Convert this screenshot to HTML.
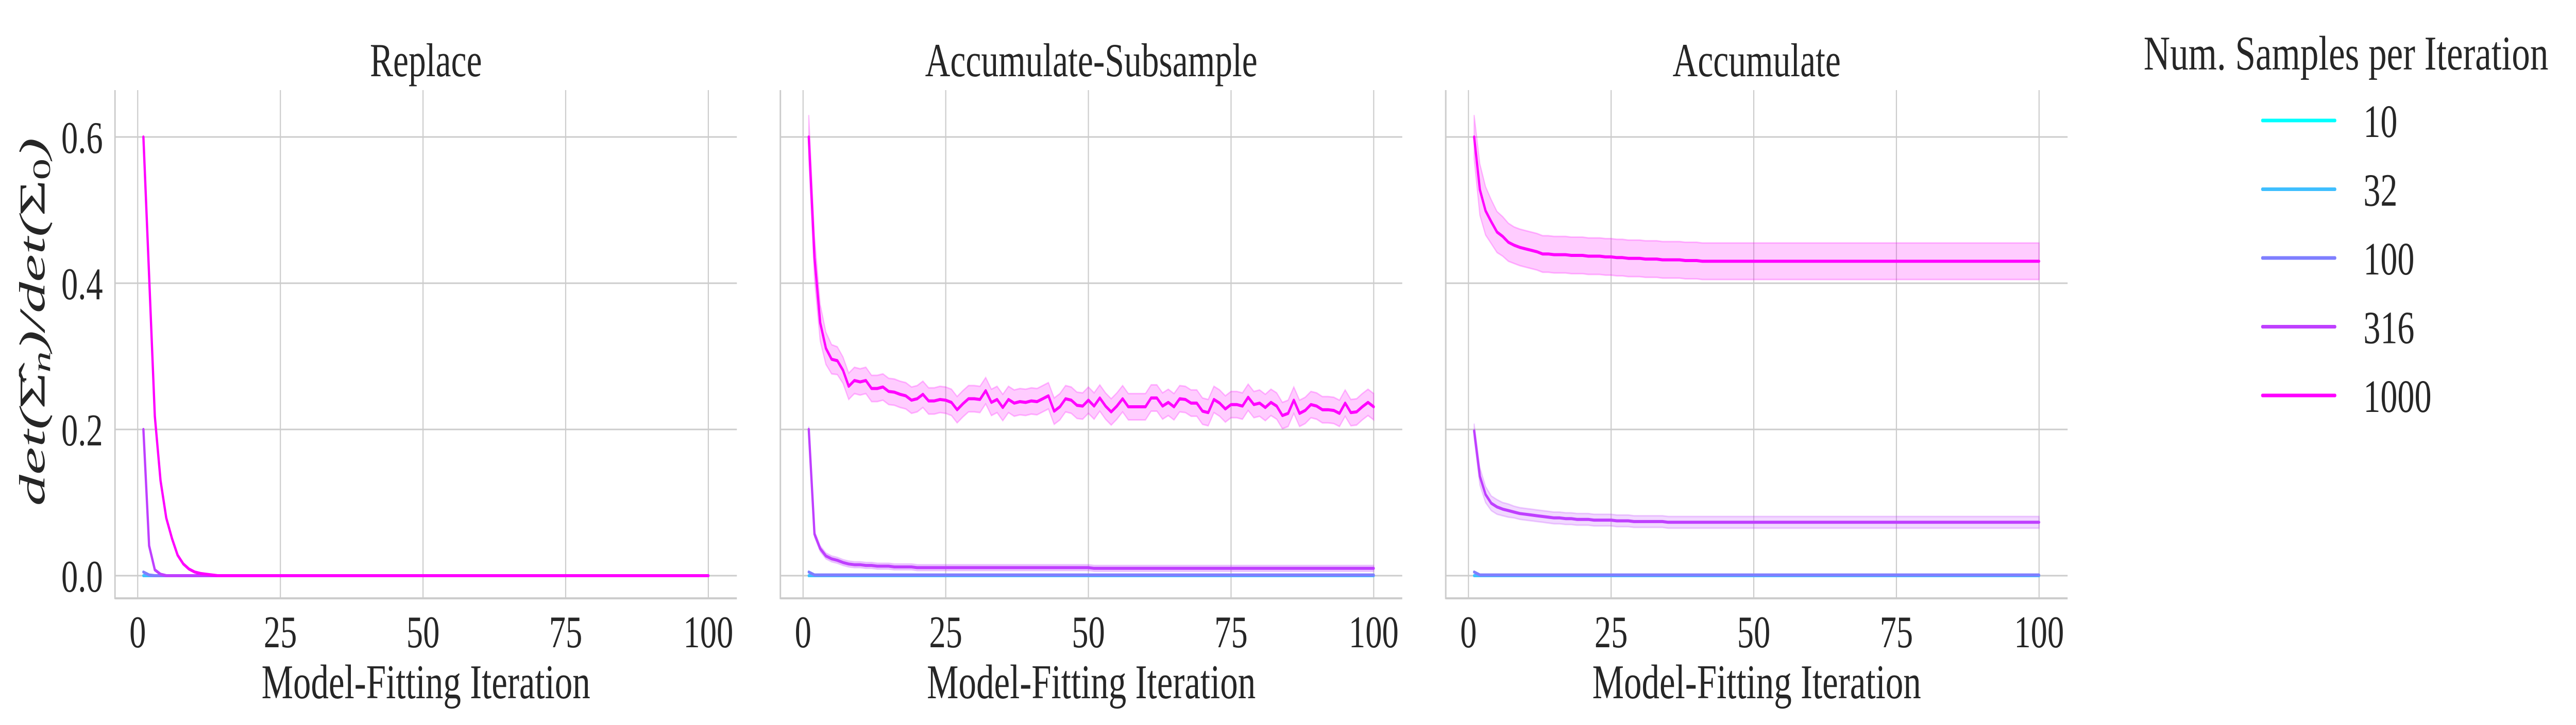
<!DOCTYPE html>
<html><head><meta charset="utf-8">
<style>
html,body{margin:0;padding:0;background:#fff;width:100%;height:100%;overflow:hidden;}
svg{display:block;width:100vw;height:100vh;}
text{font-family:"Liberation Serif",serif;fill:#262626;}
</style></head>
<body>
<svg id="chart" viewBox="0 0 6810 1408" preserveAspectRatio="none" xmlns="http://www.w3.org/2000/svg"></svg>
<script>
const seriesNames = ["10","32","100","316","1000"];
const seriesColors = ["#00ffff","#3fbfff","#7f7fff","#bf3fff","#ff00ff"];
const panelTitles = ["Replace","Accumulate-Subsample","Accumulate"];
const xTicks = [0,25,50,75,100];
const yTicks = [0.0,0.2,0.4,0.6];
const yTickLabels = ["0.0","0.2","0.4","0.6"];

// Replace
const rep1000 = [0.6,0.41,0.218,0.13,0.079,0.051,0.028,0.016,0.009,0.005,0.003,0.002,0.001];
const rep316 = [0.2,0.041,0.008,0.002];
const rep100 = [0.005,0.001];
// Accumulate-Subsample
const sub1000 = [0.6,0.435,0.346,0.311,0.296,0.294,0.281,0.259,0.267,0.265,0.267,0.256,0.256,0.258,0.252,0.251,0.248,0.246,0.240,0.242,0.248,0.239,
0.239,0.241,0.240,0.237,0.227,0.235,0.242,0.242,0.241,0.253,0.237,0.241,0.230,0.241,0.236,0.238,0.237,0.239,0.238,0.242,0.246,0.225,0.231,0.242,0.240,0.233,0.232,0.240,
0.232,0.243,0.232,0.224,0.232,0.242,0.231,0.231,0.231,0.231,0.243,0.243,0.232,0.237,0.231,0.242,0.241,0.236,0.236,0.225,0.223,0.241,0.236,0.228,0.234,0.234,0.232,0.244,0.234,0.236,
0.230,0.237,0.232,0.219,0.222,0.240,0.222,0.226,0.234,0.232,0.227,0.227,0.226,0.222,0.236,0.223,0.224,0.231,0.237,0.231];
const sub316 = [0.2,0.057,0.037,0.027,0.023,0.021,0.018,0.016,0.015,0.015,0.014,0.014,0.013,0.013,0.013,0.012,0.012,0.012,0.012,0.011];
const sub100 = [0.005,0.001];
// Accumulate
const acc1000 = [0.6,0.528,0.499,0.484,0.470,0.464,0.456,0.452,0.449,0.447,0.445,0.443,0.440,0.440,0.439,0.439,0.439,0.438,0.438,0.438,0.437,0.437,0.437,0.436,0.436,
0.435,0.435,0.434,0.434,0.434,0.433,0.433,0.433,0.432,0.432,0.432,0.432,0.431,0.431,0.431];
const acc316 = [0.198,0.136,0.111,0.099,0.094,0.091,0.089,0.087,0.085,0.084,0.083,0.082,0.081,0.080,0.079,0.079,0.078,0.078,0.077,0.077,0.077,0.076,0.076,0.076,0.076,
0.075,0.075,0.075,0.074,0.074,0.074,0.074,0.074,0.074,0.073,0.073,0.073,0.073,0.073,0.073,0.073,0.073,0.073,0.073,0.073,0.073,0.073,0.073,0.073,0.073];
const acc100 = [0.005,0.001];
const sub1000Band = [0.03,0.03,0.025,0.022,0.02,0.019,0.018,0.018];
const acc1000Band = [0.03,0.035,0.033,0.03,0.028,0.027,0.026,0.025,0.025,0.025];
const acc316Band = [0.01,0.012,0.011,0.01,0.01,0.009,0.009,0.008];

const N = 100;
function extend(arr, tail){ const out = arr.slice(); while(out.length<N) out.push(tail!==undefined?tail:arr[arr.length-1]); return out; }
const panels = [
  {series:[extend([0],0),extend([0],0),extend(rep100,0),extend(rep316,0),extend(rep1000,0)], bands:[null,null,null,null,null]},
  {series:[extend([0],0),extend([0],0),extend(sub100,0.001),extend(sub316,0.011).map((v,i)=>i>=50?0.010:v),extend(sub1000)], bands:[null,null,null,[0.004],sub1000Band]},
  {series:[extend([0],0),extend([0],0),extend(acc100,0.001),extend(acc316),extend(acc1000,0.430).map((v,i)=>i>=40?0.430:v)], bands:[null,null,null,acc316Band,acc1000Band]}
];

const svg = document.getElementById('chart');
const NS = "http://www.w3.org/2000/svg";
function mk(tag, attrs, parent){ const e=document.createElementNS(NS,tag); for(const k in attrs) e.setAttribute(k,attrs[k]); (parent||svg).appendChild(e); return e; }

const panelLeft = [304, 2063, 3822];
const panelWidth = 1644;
const plotTop = 175, plotBottom = 1162;
const xDomMin = -3.98, xDomMax = 105.0;
function yScale(v){ return 1118 - v*1420; }

panels.forEach((p, pi) => {
  const L = panelLeft[pi], R = L + panelWidth;
  const xScale = v => L + (v - xDomMin)/(xDomMax - xDomMin)*panelWidth;
  const g = mk('g',{});
  
  
  xTicks.forEach(t => {
    const ln = mk('line',{x1:xScale(t),x2:xScale(t),y1:plotTop,y2:plotBottom,stroke:'#cccccc','stroke-width':3},g);
    
    
    const tx = mk('text',{x:xScale(t),y:1257,'font-size':88,'text-anchor':'middle'},g);
    tx.textContent = t;
    
    
  });
  yTicks.forEach((t, ti) => {
    const ln = mk('line',{x1:L,x2:R,y1:yScale(t),y2:yScale(t),stroke:'#cccccc','stroke-width':3},g);
    
    
    if(pi===0){
      const tx = mk('text',{x:272,y:yScale(t)+31,'font-size':88,'text-anchor':'end'},g);
      tx.textContent = yTickLabels[ti];
      
      
    }
  });
  const sl = mk('line',{x1:L,x2:L,y1:plotTop,y2:plotBottom+1.5,stroke:'#cccccc','stroke-width':4},g);
   
  const sb = mk('line',{x1:L,x2:R,y1:plotBottom,y2:plotBottom,stroke:'#cccccc','stroke-width':4},g);
   
  const tt = mk('text',{x:L+panelWidth/2,y:148,'font-size':92,'text-anchor':'middle'},g);
  tt.textContent = panelTitles[pi];
  
  
  const xl = mk('text',{x:L+panelWidth/2,y:1356,'font-size':94,'text-anchor':'middle'},g);
  xl.textContent = 'Model-Fitting Iteration';
  
  
  p.series.forEach((vals, si) => {
    const band = p.bands[si];
    if(band){
      let up=[], lo=[];
      vals.forEach((v,i)=>{ const w = band[Math.min(i,band.length-1)]; up.push([xScale(i+1),yScale(v+w)]); lo.push([xScale(i+1),yScale(v-w)]); });
      const d = 'M'+up.map(q=>q[0].toFixed(1)+','+q[1].toFixed(1)).join('L')+'L'+lo.reverse().map(q=>q[0].toFixed(1)+','+q[1].toFixed(1)).join('L')+'Z';
      const b = mk('path',{d:d,fill:seriesColors[si],'fill-opacity':0.2,stroke:seriesColors[si],'stroke-opacity':0.25,'stroke-width':3},g);
      
      
    }
    const d = 'M'+vals.map((v,i)=>xScale(i+1).toFixed(1)+','+yScale(v).toFixed(1)).join('L');
    const pl = mk('path',{d:d,fill:'none',stroke:seriesColors[si],'stroke-width':6,'stroke-linejoin':'round','stroke-linecap':'round'},g);
    
    
  });
});

const yt = mk('text',{x:0,y:0,'font-size':96,'text-anchor':'middle','font-style':'italic',textLength:715,lengthAdjust:'spacingAndGlyphs',transform:'translate(118,625) rotate(-90)'});


yt.innerHTML = 'det(<tspan font-style="normal">Σ̂</tspan><tspan font-size="66" dy="14">n</tspan><tspan dy="-14">)/det(</tspan><tspan font-style="normal">Σ</tspan><tspan font-size="66" dy="14" font-style="normal">0</tspan><tspan dy="-14">)</tspan>';

const lg = mk('g',{});


const lt = mk('text',{x:5667,y:135,'font-size':94,textLength:1070,lengthAdjust:'spacingAndGlyphs'},lg);
lt.textContent = 'Num. Samples per Iteration';


seriesNames.forEach((nm, i) => {
  const y = 234 + i*133.5;
  const ln = mk('line',{x1:5981,x2:6173,y1:y,y2:y,stroke:seriesColors[i],'stroke-width':7,'stroke-linecap':'round'},lg);
  
  
  const tx = mk('text',{x:6248,y:y+32,'font-size':90},lg);
  tx.textContent = nm;
  
  
});
</script>
</body></html>
